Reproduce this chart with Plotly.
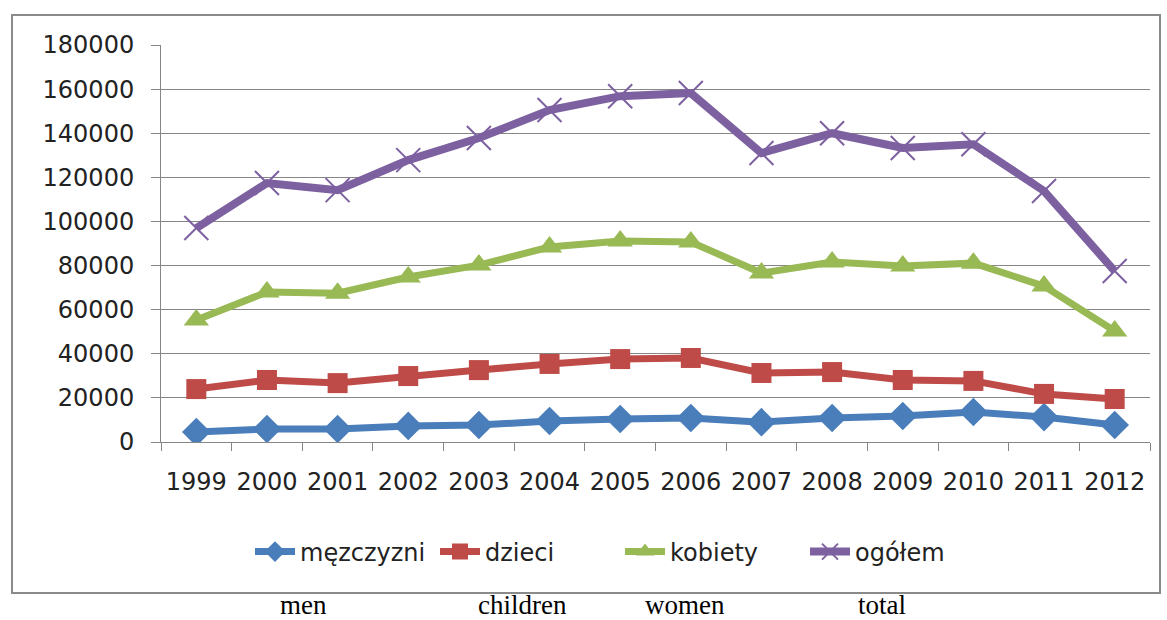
import plotly.graph_objects as go

years = ["1999", "2000", "2001", "2002", "2003", "2004", "2005", "2006",
         "2007", "2008", "2009", "2010", "2011", "2012"]
mezczyzni = [4500, 5900, 5900, 7300, 7700, 9500, 10400, 10900, 9000, 10900, 11800, 13600, 11300, 7700]
dzieci = [24000, 28100, 26700, 29900, 32600, 35400, 37600, 38100, 31300, 31700, 28100, 27700, 21800, 19500]
kobiety = [55300, 68000, 67500, 74800, 80200, 88400, 91100, 90700, 76600, 81600, 79800, 81100, 70700, 50300]
ogolem = [97000, 117400, 114200, 127800, 137800, 150500, 156800, 158200, 131000, 140000, 133300, 135000, 113800, 77500]
series_names = ["męzczyzni", "dzieci", "kobiety", "ogółem"]
english_labels = ["men", "children", "women", "total"]

W, H = 1167, 620
L, R, T, B = 161, 17, 45, 178
pw, ph = W - L - R, H - T - B

def px(x):
    return (x - L) / pw

def py(y):
    return (H - B - y) / ph

FONT = "DejaVu Sans"

fig = go.Figure()
styles = [
    (mezczyzni, "#4A7EBB", 7, dict(symbol="diamond", size=22)),
    (dzieci, "#BE4B48", 7, dict(symbol="square", size=20)),
    (kobiety, "#98B954", 7, dict(symbol="triangle-up", size=22)),
    (ogolem, "#7D60A0", 8, dict(symbol="x-thin", size=24, line=dict(width=2, color="#7D60A0"))),
]
for (vals, color, lw, mk), name in zip(styles, series_names):
    fig.add_trace(go.Scatter(
        x=years, y=vals, name=name, mode="lines+markers",
        line=dict(color=color, width=lw),
        marker=dict(color=color, **mk),
    ))

fig.update_layout(
    width=W, height=H,
    margin=dict(l=L, r=R, t=T, b=B, pad=0),
    paper_bgcolor="white", plot_bgcolor="white",
    font=dict(family=FONT, color="#222"),
    showlegend=True,
    legend=dict(orientation="h", x=px(620), xanchor="center", y=py(552), yanchor="middle",
                font=dict(size=24, family=FONT, color="#222"),
                itemwidth=40, entrywidth=130, entrywidthmode="pixels",
                traceorder="normal", tracegroupgap=0),
)
fig.update_xaxes(
    type="category", tickson="boundaries", ticks="outside", ticklen=8,
    tickcolor="#868686", showline=True, linecolor="#868686", linewidth=1,
    showgrid=False, tickfont=dict(size=24, family=FONT, color="#222"),
    ticklabelstandoff=18,
    range=[-0.5, 13.5],
)
fig.update_yaxes(
    range=[0, 180000], dtick=20000, showgrid=True, gridcolor="#868686", gridwidth=1,
    showline=True, linecolor="#868686", linewidth=1, ticks="outside", ticklen=9,
    tickcolor="#868686", zeroline=False, tickformat="d", ticklabelstandoff=12,
    tickfont=dict(size=24, family=FONT, color="#222"),
)

fig.add_shape(type="rect", xref="paper", yref="paper",
              x0=px(12), x1=px(1160), y0=py(593), y1=py(15),
              line=dict(color="#8a8a8a", width=2), fillcolor="rgba(0,0,0,0)", layer="below")

for lab, xc in zip(english_labels, [303, 522, 685, 882]):
    fig.add_annotation(text=lab, xref="paper", yref="paper", x=px(xc), y=py(605),
                       xanchor="center", yanchor="middle", showarrow=False,
                       font=dict(family="Liberation Serif", size=27, color="black"))

fig.write_html("out.html", config={"displayModeBar": False},
               post_script="document.body.style.margin='0';document.body.style.overflow='hidden';")
